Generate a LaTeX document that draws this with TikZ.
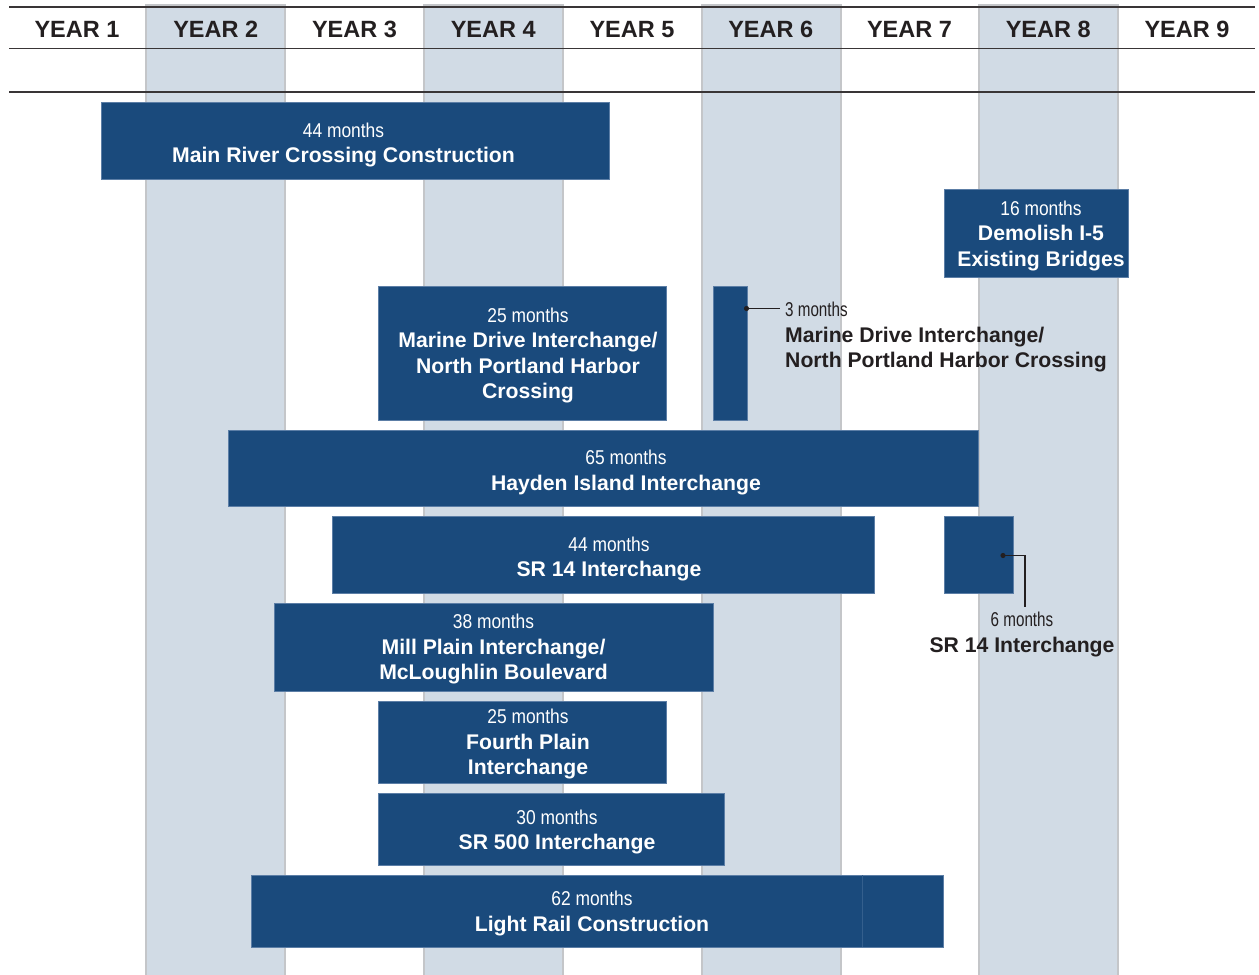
\documentclass[tikz,border=0pt]{standalone}
\usepackage{fontspec}
\setmainfont{Liberation Sans}
\newfontfamily\narrowA[FakeStretch=0.87]{Liberation Sans}
\newfontfamily\narrowB[FakeStretch=0.76]{Liberation Sans}
\definecolor{barblue}{RGB}{26,74,124}
\definecolor{baredge}{RGB}{92,126,166}
\definecolor{shadefill}{RGB}{209,219,229}
\definecolor{shadeedge}{RGB}{196,198,201}
\definecolor{ink}{RGB}{35,31,32}
\newcommand\inmonths[1]{{\narrowA\mdseries\fontsize{20}{25.5}\selectfont #1}}
\newcommand\outmonths[1]{{\narrowB\mdseries\fontsize{20}{25.5}\selectfont #1}}
\tikzset{
  shadecol/.style={fill=shadefill, draw=shadeedge, line width=2pt},
  hline/.style={draw=ink!90, line width=1.2pt},
  yearlbl/.style={anchor=base, inner sep=0pt, text=ink, font=\bfseries\fontsize{23.5}{28}\selectfont},
  bar/.style={fill=barblue, draw=baredge, line width=0.8pt, inner sep=0pt, outer sep=0pt},
  inlbl/.style={anchor=north, inner sep=0pt, align=center, text=white, font=\bfseries\fontsize{21.2}{25.5}\selectfont},
  outlbl/.style={inner sep=0pt, text=ink, font=\bfseries\fontsize{21.2}{25.5}\selectfont},
  conn/.style={draw=ink, line width=1.2pt},
  seamline/.style={draw=baredge!40!barblue, line width=0.8pt}
}
\begin{document}
\begin{tikzpicture}[x=1pt,y=-1pt]
\useasboundingbox (0,0) rectangle (1259,975);
\clip (0,0) rectangle (1259,975);
% shaded year columns
\foreach \xl in {146,424,702,979}
  \draw[shadecol] (\xl,5) rectangle ++(139,1000);
% header rules
\foreach \yy in {7,48.5,92}
  \draw[hline] (9,\yy) -- (1255,\yy);
% year labels
\foreach \i in {1,...,9}
  \node[yearlbl] (y\i) at ({77+138.75*(\i-1)},37) {YEAR \i};
% bars
\node[bar, minimum width=508pt, minimum height=77pt] (bMain)    at (355,140.5) {};
\node[bar, minimum width=184pt, minimum height=88pt] (bDemo)    at (1036,233) {};
\node[bar, minimum width=288pt, minimum height=134pt] (bMarine) at (522,353) {};
\node[bar, minimum width=34pt,  minimum height=134pt] (bMarineS) at (730,353) {};
\node[bar, minimum width=750pt, minimum height=76pt] (bHayden)  at (603,468) {};
\node[bar, minimum width=542pt, minimum height=77pt] (bSR)      at (603,554.5) {};
\node[bar, minimum width=69pt,  minimum height=77pt] (bSRS)     at (978.5,554.5) {};
\node[bar, minimum width=439pt, minimum height=88pt] (bMill)    at (493.5,647) {};
\node[bar, minimum width=288pt, minimum height=82pt] (bFourth)  at (522,742) {};
\node[bar, minimum width=346pt, minimum height=72pt] (bSRfive)  at (551,829) {};
\node[bar, minimum width=692pt, minimum height=72pt] (bLight)   at (597,911) {};
\coordinate (seam) at (862,911);
\draw[seamline] (seam |- bLight.north) -- (seam |- bLight.south);
% bar labels
\node[inlbl] (tMain)   at (343.5,122.5) {\inmonths{44 months}\\Main River Crossing Construction};
\node[inlbl] (tDemo)   at (1041,200.5) {\inmonths{16 months}\\Demolish I-5\\Existing Bridges};
\node[inlbl] (tMarine) at (528,307.5) {\inmonths{25 months}\\Marine Drive Interchange/\\North Portland Harbor\\Crossing};
\node[inlbl] (tHayden) at (626,450) {\inmonths{65 months}\\Hayden Island Interchange};
\node[inlbl] (tSR)     at (609,536.5) {\inmonths{44 months}\\SR 14 Interchange};
\node[inlbl] (tMill)   at (493.5,614) {\inmonths{38 months}\\Mill Plain Interchange/\\McLoughlin Boulevard};
\node[inlbl] (tFourth) at (528,709) {\inmonths{25 months}\\Fourth Plain\\Interchange};
\node[inlbl] (tSRfive) at (557,809.5) {\inmonths{30 months}\\SR 500 Interchange};
\node[inlbl] (tLight)  at (592,891) {\inmonths{62 months}\\Light Rail Construction};
% outside labels
\node[outlbl, anchor=north west, align=left] (tMarineS) at (785,302)
  {\outmonths{3 months}\\Marine Drive Interchange/\\North Portland Harbor Crossing};
\node[outlbl, anchor=north, align=center] (tSRS) at (1022,612)
  {\outmonths{6 months}\\SR 14 Interchange};
% connectors
\coordinate (d3) at (746.5,308.5);
\coordinate (e3) at (780,308.5);
\draw[conn] (d3) -- (e3);
\fill[ink] (d3) circle (2.6pt);
\coordinate (d6) at (1003,555.5);
\coordinate (k6) at (1025,555.5);
\coordinate (e6) at (1025,606.5);
\draw[conn] (d6) -- (k6) -- (e6);
\fill[ink] (d6) circle (2.6pt);
\end{tikzpicture}
\end{document}
